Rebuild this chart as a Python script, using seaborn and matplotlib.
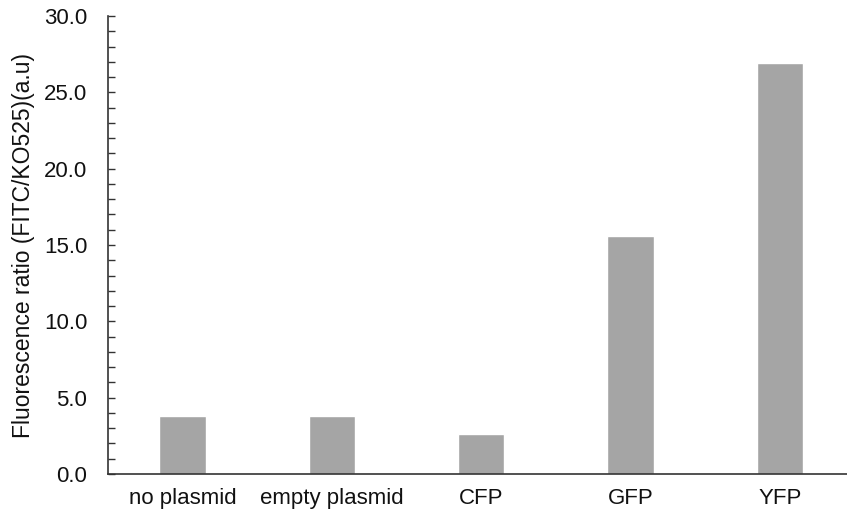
import numpy as np
import pandas as pd
import matplotlib
matplotlib.use('Agg')
import matplotlib.pyplot as plt
from matplotlib.ticker import MultipleLocator, FormatStrFormatter
import seaborn as sns

# values
samples = ["no plasmid", "empty plasmid", "CFP", "GFP", "YFP"]
ratios = [3.8, 3.8, 2.65, 15.6, 26.9]

df = pd.DataFrame({"sample": samples, "ratio": ratios})

sns.set_style("white")
plt.rcParams['font.family'] = ['Liberation Sans', 'DejaVu Sans']
plt.rcParams['text.color'] = "#111111"
plt.rcParams['axes.labelcolor'] = "#111111"
plt.rcParams['xtick.color'] = "#111111"
plt.rcParams['ytick.color'] = "#111111"

fig = plt.figure(figsize=(8.47, 5.12), dpi=100)
ax = fig.add_axes([0.1275, 0.0742, 0.8725, 0.8945])

sns.barplot(data=df, x="sample", y="ratio", color="#a5a5a5", saturation=1,
            width=0.31, ax=ax)

ax.set_xlim(-0.5, 4.45)
ax.set_ylim(0, 30)
ax.yaxis.set_major_locator(MultipleLocator(5))
ax.yaxis.set_minor_locator(MultipleLocator(1))
ax.yaxis.set_major_formatter(FormatStrFormatter("%.1f"))

ax.tick_params(axis="y", which="both", direction="in", length=5, width=1,
               color="#333333", left=True, labelsize=16, pad=15)
ax.tick_params(axis="x", length=0, labelsize=16, pad=10)

ax.set_xlabel("")
ax.set_ylabel("Fluorescence ratio (FITC/KO525)(a.u)", fontsize=16.5, labelpad=6)

for side in ["top", "right"]:
    ax.spines[side].set_visible(False)
for side in ["left", "bottom"]:
    ax.spines[side].set_color("#333333")
    ax.spines[side].set_linewidth(1.2)

fig.savefig("out.png", dpi=100)
plt.close('all')
